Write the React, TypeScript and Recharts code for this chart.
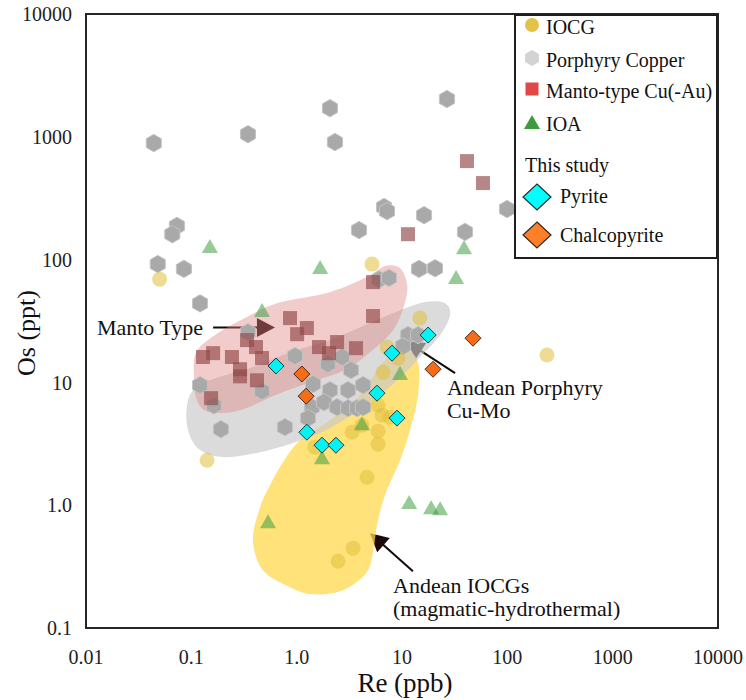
import React from 'react';
import {
  ScatterChart,
  Scatter,
  XAxis,
  YAxis,
  ReferenceArea,
  ReferenceLine,
  ReferenceDot,
} from 'recharts';

const SERIF = "'Liberation Serif', 'Times New Roman', serif";

// ---- axes ----
const RE_TICKS = [0.01, 0.1, 1, 10, 100, 1000, 10000];
const RE_TICK_LABELS = ['0.01', '0.1', '1.0', '10', '100', '1000', '10000'];
const OS_TICKS = [0.1, 1, 10, 100, 1000, 10000];
const OS_TICK_LABELS = ['0.1', '1.0', '10', '100', '1000', '10000'];

type Pt = { re: number; os: number };
const rows = (r: number[][]): Pt[] => r.map(([re, os]) => ({ re, os }));

// ---- compiled deposits: [Re (ppb), Os (ppt)] ----
const PORPHYRY = rows([
  [0.044, 889], [0.345, 1050], [2.07, 1710], [2.31, 906], [26.7, 2030],
  [0.073, 188], [0.066, 161], [0.048, 92], [0.085, 84],
  [3.91, 174], [6.75, 268], [7.21, 248], [16.2, 230], [39.6, 168], [99.3, 258],
  [14.5, 84], [20.6, 85], [6.05, 69], [7.53, 71],
  [0.121, 44], [0.345, 25.6], [0.964, 16.4], [1.98, 14.1], [2.7, 16.1], [3.28, 12.6],
  [0.121, 9.5], [0.164, 6.5], [0.469, 8.5], [1.43, 9.7], [2.07, 8.65], [3.07, 8.65], [4.27, 9.5],
  [1.4, 6.28], [1.82, 6.9], [2.42, 6.28], [3.07, 6.17], [3.74, 6.17], [4.27, 6.28],
  [1.28, 5.12], [0.191, 4.16], [0.774, 4.32], [11.4, 24.3], [14.2, 24.3], [10.2, 19.7],
]);

const MANTO = rows([
  [41.4, 634], [58.7, 420], [11.4, 161], [5.31, 65.6], [5.31, 34.7], [0.865, 33.4],
  [1.01, 24.7], [1.25, 27.7], [2.42, 21.3], [1.63, 19.4], [2.03, 17.3], [3.66, 19.0],
  [0.338, 22.1], [0.411, 19.4], [0.469, 15.8], [0.161, 17.3], [0.129, 16.1], [0.243, 16.1],
  [0.29, 12.8], [0.29, 11.2], [0.42, 10.4], [0.154, 7.44],
]);

const IOCG = rows([
  [0.05, 69.3], [5.19, 91.9], [0.141, 2.32], [238, 16.7], [14.8, 33.4], [7.21, 19.4],
  [9.16, 15.8], [6.61, 12.1], [5.92, 6.52], [6.46, 5.41], [7.69, 5.21], [4.17, 4.48],
  [3.35, 3.93], [5.92, 4.01], [5.92, 3.14], [1.49, 2.97], [4.65, 1.69], [3.43, 0.447],
  [2.47, 0.35],
]);

const IOA = rows([
  [0.15, 129], [1.67, 86.9], [0.469, 38.8], [38.8, 126], [32.6, 72.0], [9.58, 11.9],
  [4.17, 4.65], [1.74, 2.46], [0.535, 0.741], [11.7, 1.06], [18.9, 0.964], [23.0, 0.945],
]);

// ---- this study ----
const PYRITE = rows([
  [0.637, 13.6], [1.25, 3.93], [1.74, 3.08], [2.36, 3.08], [5.79, 8.17], [8.04, 17.3],
  [17.7, 24.3], [8.97, 5.12],
]);

const CHALCOPYRITE = rows([[1.12, 11.7], [1.23, 7.72], [47.2, 22.9], [19.7, 12.8]]);

// ---- outlined fields (closed outlines, smoothed) ----
const MANTO_FIELD = rows([
  [0.111, 17.6], [0.168, 24.3], [0.323, 33.4], [0.651, 44.2], [2.07, 54.3], [4.65, 72.0],
  [6.9, 88.5], [9.58, 85.3], [11.2, 61.9], [10.5, 42.6], [8.22, 26.6], [4.97, 17.6],
  [2.88, 12.6], [1.43, 10.2], [0.622, 7.87], [0.29, 5.94], [0.15, 5.72], [0.113, 7.17],
  [0.106, 11.5],
]);

const PORPHYRY_FIELD = rows([
  [0.091, 6.52], [0.108, 8.97], [0.168, 10.8], [0.361, 13.1], [0.865, 17.6], [2.07, 22.1],
  [4.46, 29.3], [8.59, 37.3], [16.5, 45.1], [25.6, 44.2], [28.6, 35.3], [23.0, 24.3],
  [14.8, 16.1], [8.59, 10.0], [4.46, 6.52], [2.07, 4.24], [0.964, 3.26], [0.449, 2.7],
  [0.209, 2.46], [0.121, 2.81], [0.093, 4.08],
]);

const IOCG_FIELD = rows([
  [0.741, 2.24], [1.08, 3.38], [2.07, 4.92], [3.99, 7.87], [6.9, 15.2], [10.7, 18.3],
  [14.2, 14.6], [14.2, 7.87], [11.9, 4.08], [9.58, 2.32], [6.9, 1.21], [5.79, 0.687],
  [5.31, 0.414], [4.55, 0.279], [2.75, 0.203], [1.43, 0.188], [0.865, 0.215], [0.478, 0.295],
  [0.385, 0.519], [0.449, 0.964], [0.559, 1.455],
]);

// ---- annotations ----
const ARROWS = [
  { from: { re: 0.161, os: 28 }, to: { re: 0.622, os: 28 } },
  { from: { re: 31.9, os: 11.9 }, to: { re: 10.9, os: 21.7 } },
  { from: { re: 12.7, os: 0.29 }, to: { re: 4.97, os: 0.591 } },
];

const NOTES = [
  { re: 0.0127, os: 28, lines: ['Manto Type'] },
  { re: 26.7, os: 9.14, lines: ['Andean Porphyry', 'Cu-Mo'] },
  { re: 8.22, os: 0.223, lines: ['Andean IOCGs', '(magmatic-hydrothermal)'] },
];

const LEGEND_GROUPS = ['IOCG', 'Porphyry Copper', 'Manto-type Cu(-Au)', 'IOA'];
const LEGEND_STUDY_TITLE = 'This study';
const LEGEND_STUDY = ['Pyrite', 'Chalcopyrite'];

const labelFor = (ticks: number[], labels: string[]) => (v: number) => {
  let best = 0;
  ticks.forEach((t, i) => {
    if (Math.abs(Math.log10(t) - Math.log10(v)) < Math.abs(Math.log10(ticks[best]) - Math.log10(v))) best = i;
  });
  return labels[best];
};

// ---- marker shapes ----
const hexPoints = (cx: number, cy: number, r: number) =>
  [0, 1, 2, 3, 4, 5]
    .map((k) => {
      const a = ((60 * k - 90) * Math.PI) / 180;
      return `${cx + r * Math.cos(a)},${cy + r * Math.sin(a)}`;
    })
    .join(' ');

const diamondPoints = (cx: number, cy: number, w: number, h: number) =>
  `${cx},${cy - h} ${cx + w},${cy} ${cx},${cy + h} ${cx - w},${cy}`;

const trianglePoints = (cx: number, cy: number, w: number, h: number) =>
  `${cx},${cy - h / 2} ${cx + w / 2},${cy + h / 2} ${cx - w / 2},${cy + h / 2}`;

const HexMarker = (p: any) =>
  p.cx == null ? <g /> : (
    <polygon points={hexPoints(p.cx, p.cy, 8.7)} fill="#a9a9a9" stroke="#c4c4c4" strokeWidth={1} />
  );

const SquareMarker = (p: any) =>
  p.cx == null ? <g /> : (
    <rect x={p.cx - 7} y={p.cy - 7} width={14} height={14} fill="#914747" fillOpacity={0.66} />
  );

const CircleMarker = (p: any) =>
  p.cx == null ? <g /> : <circle cx={p.cx} cy={p.cy} r={7.5} fill="#e0bf3c" fillOpacity={0.55} />;

const TriangleMarker = (p: any) =>
  p.cx == null ? <g /> : (
    <polygon points={trianglePoints(p.cx, p.cy, 16, 14)} fill="#3f9f3f" fillOpacity={0.55} />
  );

const PyriteMarker = (p: any) =>
  p.cx == null ? <g /> : (
    <polygon points={diamondPoints(p.cx, p.cy, 8, 8)} fill="#00f4f4" stroke="#1e3a3a" strokeWidth={1} />
  );

const ChalcopyriteMarker = (p: any) =>
  p.cx == null ? <g /> : (
    <polygon points={diamondPoints(p.cx, p.cy, 8, 8)} fill="#f76d17" stroke="#3a2a20" strokeWidth={1} />
  );

const NoMarker = () => <g />;

// closed Catmull-Rom outline through the field vertices
const closedSmoothPath = (pts: { x: number; y: number }[]) => {
  const n = pts.length;
  if (!n) return '';
  let d = `M${pts[0].x},${pts[0].y}`;
  for (let i = 0; i < n; i++) {
    const p0 = pts[(i - 1 + n) % n];
    const p1 = pts[i];
    const p2 = pts[(i + 1) % n];
    const p3 = pts[(i + 2) % n];
    const c1x = p1.x + (p2.x - p0.x) / 6;
    const c1y = p1.y + (p2.y - p0.y) / 6;
    const c2x = p2.x - (p3.x - p1.x) / 6;
    const c2y = p2.y - (p3.y - p1.y) / 6;
    d += ` C${c1x},${c1y} ${c2x},${c2y} ${p2.x},${p2.y}`;
  }
  return d + ' Z';
};

const fieldOutline = (fill: string, opacity: number) => (props: any) =>
  <path d={closedSmoothPath(props.points || [])} fill={fill} fillOpacity={opacity} stroke="none" />;

const arrowShape = (props: any) => {
  const { x1, y1, x2, y2 } = props;
  const dx = x2 - x1;
  const dy = y2 - y1;
  const len = Math.hypot(dx, dy) || 1;
  const ux = dx / len;
  const uy = dy / len;
  const head = 18;
  const half = 9.5;
  const bx = x2 - ux * head;
  const by = y2 - uy * head;
  const nx = -uy;
  const ny = ux;
  return (
    <g>
      <line x1={x1} y1={y1} x2={bx + ux * 2} y2={by + uy * 2} stroke="#140808" strokeWidth={2} />
      <polygon
        points={`${x2},${y2} ${bx + nx * half},${by + ny * half} ${bx - nx * half},${by - ny * half}`}
        fill="#1c0a0a"
      />
    </g>
  );
};

const noteShape = (lines: string[]) => (p: any) => (
  <text x={p.cx} y={p.cy} fontSize={22} fontFamily={SERIF} fill="#111">
    {lines.map((l, j) => (
      <tspan key={j} x={p.cx} dy={j === 0 ? '0.34em' : 23}>
        {l}
      </tspan>
    ))}
  </text>
);

const XTitle = (p: any) => {
  const vb = p.viewBox || { x: 86, y: 628, width: 632, height: 72 };
  return (
    <text x={vb.x + vb.width / 2 + 3} y={vb.y + 64} textAnchor="middle" fontSize={27} fontFamily={SERIF} fill="#111">
      Re (ppb)
    </text>
  );
};

const YTitle = (p: any) => {
  const vb = p.viewBox || { x: 0, y: 14, width: 86, height: 614 };
  const x = vb.x + 35;
  const y = vb.y + vb.height / 2 + 12;
  return (
    <text x={x} y={y} transform={`rotate(-90, ${x}, ${y})`} textAnchor="middle" fontSize={26} fontFamily={SERIF} fill="#111">
      Os (ppt)
    </text>
  );
};

const Legend = () => {
  const rowY = [11, 44, 75, 108];
  const icons = [
    <circle key="c" cx={18} cy={rowY[0]} r={7} fill="#e3c24a" />,
    <polygon key="h" points={hexPoints(18, rowY[1], 8)} fill="#d3d3d3" />,
    <rect key="s" x={11.5} y={rowY[2] - 6.5} width={13} height={13} fill="#e04848" />,
    <polygon key="t" points={trianglePoints(18, rowY[3], 16, 14)} fill="#3c9c3c" />,
  ];
  return (
    <svg
      width={204}
      height={245}
      style={{ position: 'absolute', left: 514, top: 14, overflow: 'visible' }}
    >
      <rect x={1} y={1} width={202} height={243} fill="#fff" stroke="#1e1e1e" strokeWidth={2} />
      {icons}
      {LEGEND_GROUPS.map((name, i) => (
        <text key={name} x={32} y={rowY[i] + 2} dominantBaseline="central" fontSize={20} fontFamily={SERIF} fill="#111">
          {name}
        </text>
      ))}
      <text x={11} y={151} dominantBaseline="central" fontSize={20} fontFamily={SERIF} fill="#111">
        {LEGEND_STUDY_TITLE}
      </text>
      <polygon points={diamondPoints(23, 183, 14, 13)} fill="#00ffff" stroke="#2a2a2a" strokeWidth={1.2} />
      <polygon points={diamondPoints(23, 221, 14, 13)} fill="#ff7f27" stroke="#2a2a2a" strokeWidth={1.2} />
      {LEGEND_STUDY.map((name, i) => (
        <text key={name} x={46} y={182 + i * 39} dominantBaseline="central" fontSize={20} fontFamily={SERIF} fill="#111">
          {name}
        </text>
      ))}
    </svg>
  );
};

export default function App() {
  const tickStyle = { fontSize: 20, fill: '#222', fontFamily: SERIF };
  return (
    <div style={{ position: 'absolute', left: 0, top: 0, width: 746, height: 700, background: '#fff' }}>
      <ScatterChart width={746} height={700} margin={{ top: 14, right: 28, bottom: 0, left: 0 }}>
        <XAxis
          type="number"
          dataKey="re"
          scale="log"
          domain={[0.01, 10000]}
          ticks={RE_TICKS}
          interval={0}
          allowDataOverflow
          axisLine={false}
          tickLine={false}
          tickSize={6}
          tickMargin={16}
          height={72}
          tick={tickStyle}
          tickFormatter={labelFor(RE_TICKS, RE_TICK_LABELS)}
          label={XTitle}
        />
        <YAxis
          type="number"
          dataKey="os"
          scale="log"
          domain={[0.1, 10000]}
          ticks={OS_TICKS}
          interval={0}
          allowDataOverflow
          axisLine={false}
          tickLine={false}
          tickSize={6}
          tickMargin={8}
          width={86}
          tick={tickStyle}
          tickFormatter={labelFor(OS_TICKS, OS_TICK_LABELS)}
          label={YTitle}
        />

        <Scatter data={IOCG_FIELD} shape={NoMarker} line={fieldOutline('#ffd84d', 0.75)} lineType="joint" isAnimationActive={false} />
        <Scatter data={PORPHYRY_FIELD} shape={NoMarker} line={fieldOutline('#c8c8c8', 0.66)} lineType="joint" isAnimationActive={false} />
        <Scatter data={MANTO_FIELD} shape={NoMarker} line={fieldOutline('#e08484', 0.42)} lineType="joint" isAnimationActive={false} />

        <ReferenceArea x1={0.01} x2={10000} y1={0.1} y2={10000} fill="none" stroke="#262626" strokeWidth={2} ifOverflow="visible" />

        <Scatter name="Porphyry Copper" data={PORPHYRY} shape={HexMarker} isAnimationActive={false} />
        <Scatter name="Manto-type Cu(-Au)" data={MANTO} shape={SquareMarker} isAnimationActive={false} />
        <Scatter name="IOCG" data={IOCG} shape={CircleMarker} isAnimationActive={false} />
        <Scatter name="IOA" data={IOA} shape={TriangleMarker} isAnimationActive={false} />
        <Scatter name="Pyrite" data={PYRITE} shape={PyriteMarker} isAnimationActive={false} />
        <Scatter name="Chalcopyrite" data={CHALCOPYRITE} shape={ChalcopyriteMarker} isAnimationActive={false} />

        {ARROWS.map((a, i) => (
          <ReferenceLine
            key={`arrow-${i}`}
            segment={[{ x: a.from.re, y: a.from.os }, { x: a.to.re, y: a.to.os }]}
            shape={arrowShape}
            ifOverflow="visible"
          />
        ))}
        {NOTES.map((n, i) => (
          <ReferenceDot key={`note-${i}`} x={n.re} y={n.os} r={0} shape={noteShape(n.lines)} ifOverflow="visible" />
        ))}
      </ScatterChart>
      <Legend />
    </div>
  );
}
